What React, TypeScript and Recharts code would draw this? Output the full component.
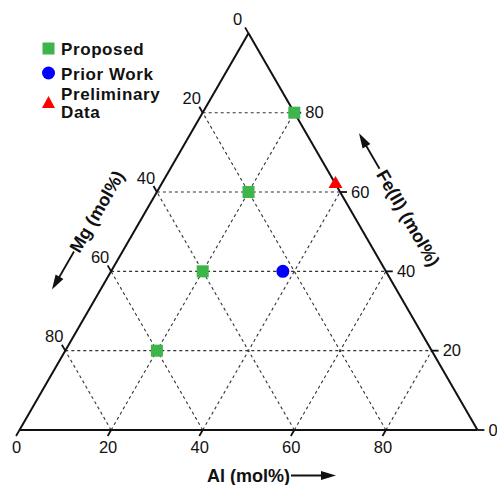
import React from 'react';
import { ScatterChart, Scatter, XAxis, YAxis, ReferenceLine, ReferenceDot, Legend } from 'recharts';

// ---- data (compositions in mol%) ----
const proposedAl = [20, 20, 20, 20];
const proposedMg = [0, 20, 40, 60];
const proposedFe = [80, 60, 40, 20];

const priorAl = [37.5];
const priorMg = [22.5];
const priorFe = [40];

const prelimAl = [38];
const prelimMg = [0];
const prelimFe = [62];

const tickValues = [0, 20, 40, 60, 80];
const gridValues = [20, 40, 60, 80];

const seriesNames = ['Proposed', 'Prior Work', 'Preliminary Data'];
const axisTitles = { al: 'Al (mol%)', mg: 'Mg (mol%)', fe: 'Fe(II) (mol%)' };

// ---- geometry helpers ----
const H = Math.sqrt(3) / 2;
const toXY = (al: number, fe: number) => ({ x: al + fe / 2, y: fe * H });
const build = (al: number[], mg: number[], fe: number[]) =>
  al.map((a, i) => ({ al: a, mg: mg[i], fe: fe[i], ...toXY(a, fe[i]) }));

const proposedData = build(proposedAl, proposedMg, proposedFe);
const priorData = build(priorAl, priorMg, priorFe);
const prelimData = build(prelimAl, prelimMg, prelimFe);

const W = 497;
const HT = 485;
const S = 4.58;
const X0 = 19.5;
const Y0 = 430;
const xDomain: [number, number] = [-X0 / S, (W - X0) / S];
const yDomain: [number, number] = [(Y0 - HT) / S, Y0 / S];

const FONT = '"Liberation Sans", Arial, Helvetica, sans-serif';
const GREEN = '#3db54a';
const BLUE = '#0000ff';
const RED = '#ff0000';
const TICK = 1.5;

const Square = (p: any) => <rect x={p.cx - 6} y={p.cy - 6} width={12} height={12} fill={GREEN} />;
const Circle = (p: any) => <circle cx={p.cx} cy={p.cy} r={6.5} fill={BLUE} />;
const Tri = (p: any) => (
  <polygon points={`${p.cx},${p.cy - 8} ${p.cx - 7},${p.cy + 4} ${p.cx + 7},${p.cy + 4}`} fill={RED} />
);

const renderLegend = (props: any) => {
  const payload = props.payload || [];
  const rows = [
    { icon: 48.5, base: [55] },
    { icon: 73, base: [80] },
    { icon: 102, base: [99.5, 117.5] },
  ];
  return (
    <svg width={200} height={125} style={{ display: 'block', overflow: 'visible' }}>
      {payload.map((entry: any) => {
        const name: string = entry.value;
        const i = seriesNames.indexOf(name);
        const r = rows[i];
        if (!r) return null;
        const lines = name.length > 12 ? name.split(' ') : [name];
        let icon;
        if (i === 0) icon = <rect x={42.5} y={r.icon - 6} width={12} height={12} fill={GREEN} />;
        else if (i === 1) icon = <circle cx={48.5} cy={r.icon} r={6.5} fill={BLUE} />;
        else icon = <polygon points={`48.5,${r.icon - 6} 42,${r.icon + 6} 55,${r.icon + 6}`} fill={RED} />;
        return (
          <g key={name}>
            {icon}
            {lines.map((ln, j) => (
              <text key={j} x={61} y={r.base[j]} fontFamily={FONT} fontWeight="bold" fontSize={17}
                letterSpacing={0.6} fill="#111">
                {ln}
              </text>
            ))}
          </g>
        );
      })}
    </svg>
  );
};

const Arrow = ({ x1, x2 }: { x1: number; x2: number }) => {
  const dir = x2 > x1 ? 1 : -1;
  return (
    <g>
      <line x1={x1} y1={0} x2={x2 - dir * 10} y2={0} stroke="#111" strokeWidth={1.8} />
      <polygon points={`${x2},0 ${x2 - dir * 15},-4.5 ${x2 - dir * 15},4.5`} fill="#111" />
    </g>
  );
};

export default function App() {
  const gridSegs: { a: { x: number; y: number }; b: { x: number; y: number } }[] = [];
  gridValues.forEach((k) => {
    gridSegs.push({ a: { x: k / 2, y: k * H }, b: { x: 100 - k / 2, y: k * H } });
    gridSegs.push({ a: { x: k, y: 0 }, b: { x: (100 + k) / 2, y: (100 - k) * H } });
    gridSegs.push({ a: { x: k, y: 0 }, b: { x: k / 2, y: k * H } });
  });

  const edges = [
    { a: { x: 0, y: 0 }, b: { x: 100, y: 0 } },
    { a: { x: 100, y: 0 }, b: { x: 50, y: 100 * H } },
    { a: { x: 50, y: 100 * H }, b: { x: 0, y: 0 } },
  ];

  const ticks: { a: { x: number; y: number }; b: { x: number; y: number } }[] = [];
  tickValues.forEach((v) => {
    ticks.push({ a: { x: v, y: 0 }, b: { x: v - 0.5 * TICK, y: -H * TICK } });
    ticks.push({ a: { x: 100 - v / 2, y: v * H }, b: { x: 100 - v / 2 + TICK, y: v * H } });
    ticks.push({ a: { x: (100 - v) / 2, y: (100 - v) * H }, b: { x: (100 - v) / 2 - 0.5 * TICK, y: (100 - v) * H + H * TICK } });
  });

  const labelStyle = { fontFamily: FONT, fontSize: 16.5, fill: '#111' };
  const titleStyle = { fontFamily: FONT, fontSize: 18, fontWeight: 'bold' as const, fill: '#111' };

  return (
    <div style={{ position: 'absolute', left: 0, top: 0, background: '#fff' }}>
      <ScatterChart width={W} height={HT} margin={{ top: 0, right: 0, bottom: 0, left: 0 }}>
        <XAxis type="number" dataKey="x" domain={xDomain} hide allowDataOverflow />
        <YAxis type="number" dataKey="y" domain={yDomain} hide allowDataOverflow />
        {gridSegs.map((s, i) => (
          <ReferenceLine key={`g${i}`} segment={[s.a, s.b]} stroke="#333" strokeWidth={1.1} strokeDasharray="3 3" ifOverflow="visible" />
        ))}
        {ticks.map((s, i) => (
          <ReferenceLine key={`t${i}`} segment={[s.a, s.b]} stroke="#111" strokeWidth={1.8} ifOverflow="visible" />
        ))}
        {edges.map((s, i) => (
          <ReferenceLine key={`e${i}`} segment={[s.a, s.b]} stroke="#111" strokeWidth={2} ifOverflow="visible" />
        ))}
        {tickValues.map((v) => (
          <ReferenceDot key={`bl${v}`} x={v} y={0} r={1} ifOverflow="visible"
            shape={(p: any) => (
              <text x={p.cx - 3} y={p.cy + 17} textAnchor="middle" dominantBaseline="central" {...labelStyle}>{v}</text>
            )} />
        ))}
        {tickValues.map((v) => (
          <ReferenceDot key={`rl${v}`} x={100 - v / 2} y={v * H} r={1} ifOverflow="visible"
            shape={(p: any) => (
              <text x={p.cx + 11} y={p.cy - 0.5} textAnchor="start" dominantBaseline="central" {...labelStyle}>{v}</text>
            )} />
        ))}
        {tickValues.map((v) => (
          <ReferenceDot key={`ll${v}`} x={(100 - v) / 2} y={(100 - v) * H} r={1} ifOverflow="visible"
            shape={(p: any) => (
              <text x={p.cx - 11} y={p.cy - 14.5} textAnchor="middle" dominantBaseline="central" {...labelStyle}>{v}</text>
            )} />
        ))}
        <ReferenceDot x={50} y={0} r={1} ifOverflow="visible"
          shape={(p: any) => (
            <g transform={`translate(${p.cx - 41.5},${p.cy + 45.5})`}>
              <text x={0} y={0} textAnchor="start" dominantBaseline="central" {...titleStyle}>{axisTitles.al}</text>
              <Arrow x1={84} x2={129} />
            </g>
          )} />
        <ReferenceDot x={25} y={50 * H} r={1} ifOverflow="visible"
          shape={(p: any) => (
            <g transform={`translate(${p.cx - 37},${p.cy - 20}) rotate(-60)`}>
              <text x={0} y={0} textAnchor="middle" dominantBaseline="central" {...titleStyle}>{axisTitles.mg}</text>
              <Arrow x1={-46} x2={-90} />
            </g>
          )} />
        <ReferenceDot x={75} y={50 * H} r={1} ifOverflow="visible"
          shape={(p: any) => (
            <g transform={`translate(${p.cx + 45},${p.cy - 13.5}) rotate(60)`}>
              <text x={0} y={0} textAnchor="middle" dominantBaseline="central" {...titleStyle}>{axisTitles.fe}</text>
              <Arrow x1={-57} x2={-98} />
            </g>
          )} />
        <Scatter name={seriesNames[0]} data={proposedData} fill={GREEN} legendType="square" shape={Square} isAnimationActive={false} />
        <Scatter name={seriesNames[1]} data={priorData} fill={BLUE} legendType="circle" shape={Circle} isAnimationActive={false} />
        <Scatter name={seriesNames[2]} data={prelimData} fill={RED} legendType="triangle" shape={Tri} isAnimationActive={false} />
        <Legend layout="vertical" align="center" verticalAlign="middle" content={renderLegend}
          wrapperStyle={{ position: 'absolute', left: 0, top: 0, width: 200, height: 125 }} />
      </ScatterChart>
    </div>
  );
}
